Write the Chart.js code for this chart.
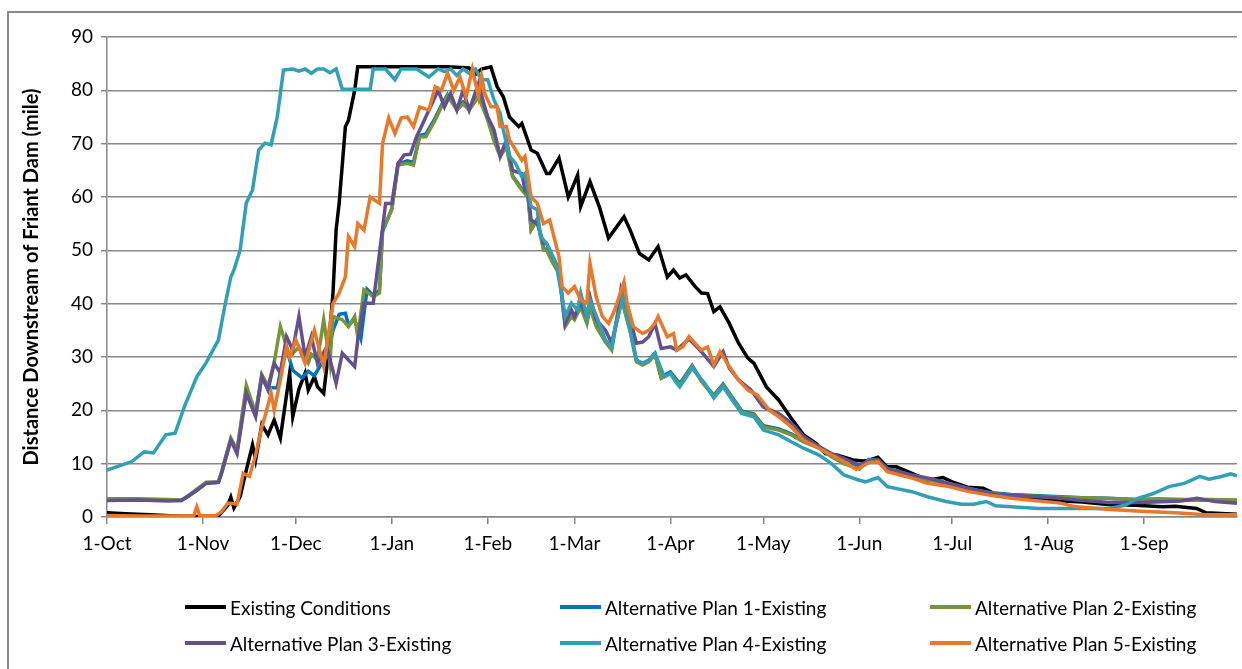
<!DOCTYPE html>
<html>
<head>
<meta charset="utf-8">
<script src="https://cdn.jsdelivr.net/npm/chart.js@4.4.1/dist/chart.umd.min.js"></script>
<style>
  body { margin: 0; background: #fff; }
  #wrap { position: relative; width: 1242px; height: 669px; overflow: hidden; }
  #frame { position: absolute; left: 7px; top: 11px; width: 1260px; height: 690px; border: 2px solid #8c8c8c; box-sizing: border-box; }
  #legend { position: absolute; left: 0; top: 0; width: 1242px; height: 669px; font-family: Lato, sans-serif; font-size: 19px; color: #000; }
  .item { position: absolute; display: flex; align-items: center; white-space: nowrap; }
  .swatch { width: 41px; height: 4px; margin-right: 4px; }
</style>
</head>
<body>
<div id="wrap">
  <div id="frame"></div>
  <canvas id="chart"></canvas>
  <div id="legend"></div>
</div>
<script>
// days counted from 1-Oct (0) to 30-Sep (365)
const monthDays = [0, 31, 61, 92, 123, 151, 182, 212, 243, 273, 304, 335];
const monthLabels = ["1-Oct", "1-Nov", "1-Dec", "1-Jan", "1-Feb", "1-Mar", "1-Apr", "1-May", "1-Jun", "1-Jul", "1-Aug", "1-Sep"];

const seriesNames = ["Existing Conditions", "Alternative Plan 1-Existing", "Alternative Plan 2-Existing",
                     "Alternative Plan 3-Existing", "Alternative Plan 4-Existing", "Alternative Plan 5-Existing"];
const seriesColors = ["#000000", "#0070c0", "#77933c", "#62508f", "#31a0b6", "#e8782a"];

const existingDays = [0,6,14,22,30,36,39,40,41,43,
  45,47,48,50,52,54,56,59,60,62,
  64,65,67,68,70,71,72,73,74,75,
  77,78,80,81,95,110,117,119,121,124,
  126,128,130,133,134,137,139,142,143,146,
  149,150,152,153,156,159,162,167,169,172,
  175,178,181,183,185,187,190,192,194,196,
  198,201,204,207,209,213,217,221,225,229,
  232,236,241,244,246,249,252,255,260,265,
  270,273,278,283,287,292,298,303,315,324,
  332,341,345,352,355,365];
const existingMiles = [0.8,0.6,0.4,0.2,0.1,0.2,2.2,3.7,1.7,3.8,
  8.8,13.5,10.7,17.3,15.4,18.2,14.8,27,18.8,24,
  27,23.8,26.3,24.4,23.2,28.2,35,42,53.8,58.9,
  73.2,74.4,80,84.4,84.4,84.4,84.2,83,84,84.4,
  80.7,78.8,75,73.2,73.8,68.8,68.2,64.4,64.4,67.3,
  60,61.3,64.1,58.2,62.9,58.2,52.3,56.3,53.8,49.4,
  48.2,50.7,45,46.3,44.8,45.4,43.2,42,41.9,38.5,
  39.4,36.3,32.6,29.8,28.8,24.4,21.9,18.5,15.4,13.8,
  11.9,11.6,10.7,10.5,10.6,11.2,9.4,9.4,8.2,6.9,
  7.4,6.6,5.6,5.4,4.3,3.9,3.7,3.2,2.8,2.3,
  2.2,1.9,2.0,1.6,0.8,0.5];

const plan1Days = [0,10,20,24,26,29,32,36,37,40,
  42,45,48,50,52,55,57,58,60,63,
  65,67,69,71,73,75,77,78,80,82,
  84,86,88,89,92,94,97,99,101,103,
  106,108,110,113,115,117,120,123,125,127,
  129,131,134,136,137,139,141,142,144,146,
  148,150,151,153,155,156,158,161,163,164,
  166,169,171,173,175,177,179,182,185,189,
  192,196,199,202,205,209,212,217,221,225,
  230,234,238,243,246,249,252,260,265,272,
  278,285,292,301,308,315,323,332,340,348,
  356,365];
const plan1Miles = [3.3,3.3,3.2,3.1,3.8,5.0,6.4,6.5,8.3,14.5,
  12.2,24.0,19.2,26.5,24.3,24.2,30,31.5,27.5,26.1,
  27.3,26.5,28.5,30,35,38,38.2,36,37,33.5,
  42.7,41.5,42.5,53.5,57.8,66.2,66.8,66.5,71.5,71.8,
  74.8,77.2,79.2,76.6,77.8,76.6,79,74.8,71,67.8,
  69.6,64,61.5,60.2,54,55.9,50.3,50.2,47.9,46,
  36,37.8,37.3,39.6,36.6,39.7,36,33,31.6,35,
  41.6,35,29.4,28.8,29.4,30.7,26.3,27.2,25,28.4,
  25.6,22.8,24.9,22.4,19.9,19.3,17.1,16.5,15.6,14.3,
  13.1,11.5,10.2,9.2,10.8,10.8,9.1,7.8,7.1,6.3,
  5.4,4.6,4.2,4.0,3.8,3.6,3.5,3.3,3.3,3.2,
  3.2,3.1];

const plan2Days = [0,10,20,24,26,29,32,36,37,40,
  42,45,48,50,52,54,56,58,59,62,
  65,66,68,70,72,73,76,78,80,81,
  83,86,88,89,92,94,97,99,101,103,
  106,108,110,113,115,117,120,123,125,127,
  129,131,134,136,137,139,141,142,144,146,
  148,150,151,153,155,156,158,161,163,164,
  166,169,171,173,175,177,179,182,185,189,
  192,196,199,202,205,209,212,217,221,225,
  230,234,238,243,246,249,252,260,265,272,
  278,285,292,301,308,315,323,332,340,348,
  356,365];
const plan2Miles = [3.4,3.4,3.3,3.2,3.9,5.2,6.5,6.6,8.5,14.8,
  12.5,24.7,19.5,26.7,24.5,29,35.7,32,30,31.9,
  28.9,30.5,29.5,37,28.9,37.6,37,35.7,37.6,33.8,
  42.6,41.3,42,53.8,57.6,66,66.3,66,71.3,71.3,
  74.4,76.9,79,76.3,77.5,76.3,78.8,74.4,70.5,67.6,
  69.4,63.8,61.3,60,53.8,55.7,50,50,47.6,45.7,
  35.7,37.6,37,39.4,36.3,39.4,35.7,32.8,31.3,34.7,
  41.3,34.7,29.1,28.5,29.1,30.4,26,26.9,24.7,28.2,
  25.4,22.6,24.7,22.2,19.7,19.1,16.9,16.3,15.4,14.1,
  12.9,11.3,10,9,10.6,10.6,8.9,7.7,7.0,6.2,
  5.3,4.5,4.1,3.9,3.7,3.6,3.5,3.3,3.4,3.3,
  3.3,3.2];

const plan3Days = [0,10,20,24,26,29,32,36,37,40,
  42,45,48,50,52,54,56,58,60,62,
  64,66,68,71,74,76,80,81,83,86,
  88,90,92,94,96,98,100,102,104,107,
  109,111,113,115,117,120,122,123,125,127,
  129,131,134,135,136,137,139,141,142,144,
  146,148,150,151,153,155,156,158,161,163,
  165,166,169,171,173,175,177,179,182,184,
  188,192,196,199,201,204,208,212,217,221,
  225,230,234,238,243,246,249,252,260,265,
  272,278,285,292,301,308,313,324,334,347,
  352,358,365];
const plan3Miles = [3.1,3.2,3.0,3.1,3.8,5,6.3,6.5,8.2,14.4,
  11.9,23.2,18.8,26.3,23.8,28.8,27,33.8,31.3,37.6,
  30,33.8,28.8,31.9,25.1,30.7,28.2,33.2,40.1,40.1,
  49.4,58.8,58.8,66.3,67.9,68,71.3,73.8,76.3,80,
  76.9,79.4,76.3,80,76.3,81.3,76.9,75,72.6,67.6,
  70.7,65,64.4,61.3,60.7,55.7,55,51.3,51.3,48.8,
  46.3,36.3,38.8,37.6,40.1,37.6,41.3,37,35,32.6,
  37.6,42.6,37,32.6,32.8,33.8,36.3,31.6,31.9,31.3,
  33.4,31,28.2,31,27.9,25.7,23.8,20.6,19.4,17.6,
  15.1,13.2,11.9,11,9.75,10.4,10.7,9.1,7.9,7.3,
  6.3,5.4,4.4,4.1,3.8,3.5,3.2,2.7,2.7,3.0,
  3.5,2.9,2.6];

const plan4Days = [0,4,8,12,15,19,22,25,29,32,
  36,38,40,41,43,45,47,49,51,53,
  55,57,60,62,64,66,68,70,72,74,
  76,80,85,86,90,93,95,100,104,107,
  109,111,113,115,117,119,121,123,125,127,
  128,130,132,134,135,137,139,140,142,143,
  145,147,148,150,152,153,155,156,159,161,
  163,164,167,169,171,173,175,177,180,182,
  184,185,189,193,196,199,202,205,209,212,
  217,221,225,230,234,238,243,245,249,252,
  260,265,271,276,280,284,287,292,301,313,
  324,329,333,338,343,348,353,356,360,363,
  365];
const plan4Miles = [8.8,9.6,10.4,12.2,12,15.4,15.7,20.7,26.3,28.9,
  33.2,39.4,45,46.3,50,58.9,61.3,68.8,70.1,69.8,
  75,83.8,84,83.6,84,83.2,84,84,83.3,84,
  80.2,80.2,80.2,84,84,82,84,84,82.5,84,
  83.5,84,82.8,84,83.2,84,82,82,78.2,75.7,
  72.6,67.6,66.3,63.8,64.4,58.2,57.6,52.6,51.3,50,
  47.6,41.3,37.6,40.1,38.8,42,37.6,40.7,36.3,33.2,
  31.9,35,42,35,29.4,28.8,29.4,30.7,26.3,26.9,
  25.1,24.4,27.9,25.1,22.3,24.4,21.9,19.4,18.8,16.3,
  15.4,14.1,12.9,11.6,10,7.9,6.9,6.6,7.4,5.7,
  4.75,3.8,2.9,2.4,2.4,2.9,2.1,1.9,1.6,1.6,
  1.6,2.25,3.5,4.4,5.7,6.3,7.6,7.1,7.6,8.1,
  7.7];

const plan5Days = [0,10,20,28,29,30,35,37,39,40,
  42,44,46,48,50,51,53,54,56,58,
  59,61,64,67,70,73,75,77,78,80,
  81,83,85,88,89,91,93,95,97,99,
  101,104,106,108,110,112,114,116,118,120,
  121,122,124,126,127,129,130,132,134,135,
  137,139,141,143,146,147,149,151,153,155,
  156,158,160,162,164,167,168,170,173,175,
  177,178,181,183,184,186,188,192,194,196,
  198,201,204,207,210,214,217,221,225,230,
  234,238,242,246,249,252,260,265,272,278,
  285,292,301,308,313,324,334,345,355,365];
const plan5Miles = [0.3,0.2,0.2,0.2,1.9,0.2,0.2,1.0,2.6,2.6,
  2.4,8.2,7.6,11.6,16.9,18.8,23.2,20,25.7,31.9,
  30,33.2,28.8,35,28.2,40,42,45,52.6,50.7,
  55,53.8,60,58.8,70,74.8,71.9,74.8,75,73.2,
  76.9,76.3,80.7,80,83.2,80,82.5,78.8,84,78.8,
  82.6,79.4,76.9,76.9,73.2,73.2,70.7,68.8,66.9,67.6,
  60,58.8,55,55.7,48.8,43.2,42,43.2,40.7,40.1,
  47.6,41.3,37.6,36.3,38.8,44.1,40.1,35.7,34.4,35,
  36.3,37.6,33.8,34.4,31.3,31.9,33.8,31.3,31.9,28.5,
  31,28.2,25.7,23.8,22.9,20,18.8,16.9,14.4,12.9,
  11.6,10.4,8.9,10.2,10.4,8.5,7.3,6.3,5.7,4.8,
  4.1,3.5,3.0,2.6,1.9,1.4,1.1,0.8,0.4,0.4];

const seriesDays = [existingDays, plan1Days, plan2Days, plan3Days, plan4Days, plan5Days];
const seriesMiles = [existingMiles, plan1Miles, plan2Miles, plan3Miles, plan4Miles, plan5Miles];

const FONT = "Lato";

const datasets = seriesNames.map((name, i) => ({
  label: name,
  data: seriesDays[i].map((d, j) => ({ x: d, y: seriesMiles[i][j] })),
  borderColor: seriesColors[i],
  backgroundColor: seriesColors[i],
  borderWidth: 3.5,
  pointRadius: 0,
  tension: 0,
  order: seriesNames.length - i   // later series drawn on top, like Excel
}));

new Chart(document.getElementById("chart"), {
  type: "line",
  data: { datasets: datasets },
  options: {
    responsive: true,
    maintainAspectRatio: false,
    animation: false,
    layout: { padding: { left: 0, right: 5, top: 37, bottom: 92 } },
    plugins: { legend: { display: false }, tooltip: { enabled: false } },
    scales: {
      x: {
        type: "linear",
        min: 0,
        max: 365,
        afterBuildTicks: (axis) => { axis.ticks = monthDays.map(v => ({ value: v })); },
        afterFit: (s) => { s.height = 60; },
        ticks: {
          autoSkip: false,
          maxRotation: 0,
          padding: 8,
          color: "#000",
          font: { family: FONT, size: 19 },
          callback: (v, i) => monthLabels[i]
        },
        grid: { drawOnChartArea: false, drawTicks: true, tickLength: 7, color: "#888", lineWidth: 1.5 },
        border: { color: "#888", width: 1.5 }
      },
      y: {
        min: 0,
        max: 90,
        afterFit: (s) => { s.width = 107; },
        ticks: { stepSize: 10, padding: 8, color: "#000", font: { family: FONT, size: 19 } },
        grid: { color: "#888", lineWidth: 1.5, tickLength: 6 },
        border: { color: "#888", width: 1.5 },
        title: {
          display: true,
          text: "Distance Downstream of Friant Dam (mile)",
          color: "#000",
          font: { family: FONT, size: 20, weight: "bold" },
          padding: { top: 20, bottom: 0 }
        }
      }
    }
  }
});

// legend: 3 columns x 2 rows
const legendCols = [185, 560, 930];
const legendRows = [607, 643];
const legend = document.getElementById("legend");
seriesNames.forEach((name, i) => {
  const item = document.createElement("div");
  item.className = "item";
  item.style.left = legendCols[i % 3] + "px";
  item.style.top = (legendRows[Math.floor(i / 3)] - 12) + "px";
  item.style.height = "24px";
  const sw = document.createElement("span");
  sw.className = "swatch";
  sw.style.background = seriesColors[i];
  const tx = document.createElement("span");
  tx.textContent = name;
  item.appendChild(sw);
  item.appendChild(tx);
  legend.appendChild(item);
});
</script>
</body>
</html>
